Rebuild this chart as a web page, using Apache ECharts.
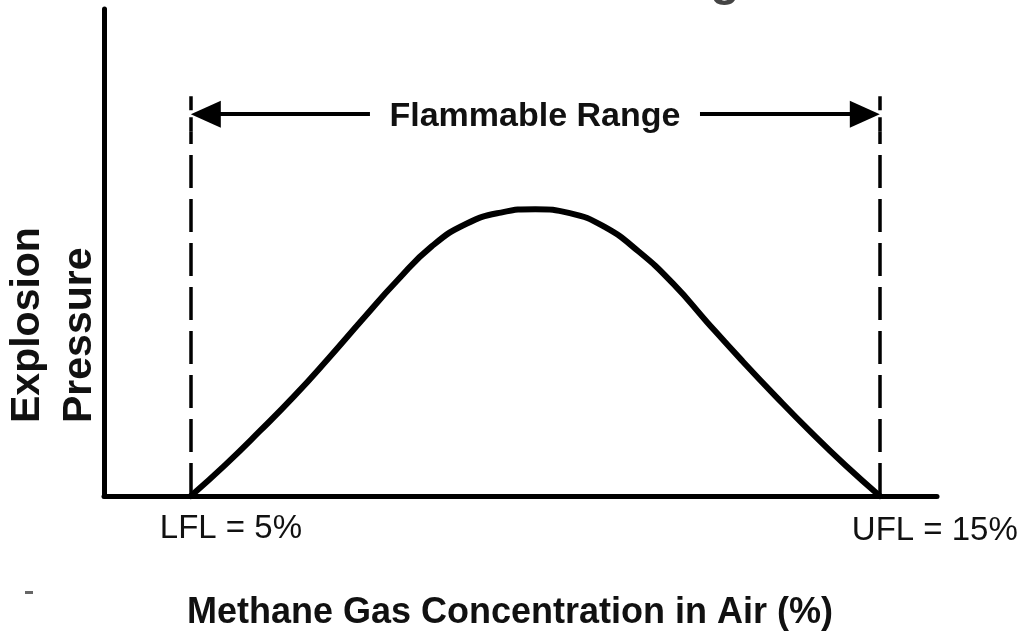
<!DOCTYPE html>
<html>
<head>
<meta charset="utf-8">
<script src="https://cdn.jsdelivr.net/npm/echarts@6/dist/echarts.min.js"></script>
<style>
html,body{margin:0;padding:0;background:#fff;}
#c{width:1026px;height:639px;}
</style>
</head>
<body>
<div id="c"></div>
<script>
// Methane concentration in air (%) and relative explosion pressure (0-100 scale)
const concentration = [5, 5.5, 6, 6.5, 7, 7.5, 8, 8.5, 9, 9.5, 10, 10.5, 11, 11.5, 12, 12.5, 13, 13.5, 14, 14.5, 15];
const pressure = [0, 6.4, 13.3, 20.5, 28.3, 36.4, 44.3, 51.3, 55.9, 58.2, 58.9, 58.1, 55.3, 50.2, 43.6, 35.6, 27.8, 20.3, 13.1, 6.3, 0];
const limitValues = [5, 15];
const limitLabels = ['LFL = 5%', 'UFL = 15%'];
const rangeLabel = 'Flammable Range';
const xTitle = 'Methane Gas Concentration in Air (%)';
const yTitle = 'Explosion\nPressure';
const xRange = [3.74, 15.83];
const yRange = [0, 100];
const arrowLevel = 78.4;
const barTop = 82.75;
const barBottom = 74.9;
const textGap = [7.6, 12.39];
const tipInset = 0.218;

const FONT = '"Liberation Sans", Arial, sans-serif';
const chart = echarts.init(document.getElementById('c'), null, {renderer: 'canvas'});

const solid = {color: '#000', width: 4, type: 'solid'};
const dashed = {color: '#000', width: 3.5, type: [33, 11]};

const mlData = [];
limitValues.forEach(function (v) {
  mlData.push([{coord: [v, 0], lineStyle: dashed}, {coord: [v, barBottom]}]);
  mlData.push([{coord: [v, barBottom], lineStyle: {color: '#000', width: 3.5}}, {coord: [v, barTop]}]);
});
mlData.push([
  {coord: [textGap[0], arrowLevel], lineStyle: solid, symbol: 'none'},
  {coord: [limitValues[0] + tipInset, arrowLevel], symbol: 'triangle', symbolSize: [27, 30]}
]);
mlData.push([
  {coord: [textGap[1], arrowLevel], lineStyle: solid, symbol: 'none'},
  {coord: [limitValues[1] - tipInset, arrowLevel], symbol: 'triangle', symbolSize: [27, 30]}
]);

const option = {
  animation: false,
  backgroundColor: '#fff',
  grid: {left: 104, right: 89, top: 9, bottom: 143},
  xAxis: {
    type: 'value', min: xRange[0], max: xRange[1],
    axisLine: {show: true, lineStyle: {color: '#000', width: 5}},
    axisTick: {show: false}, axisLabel: {show: false}, splitLine: {show: false}
  },
  yAxis: {
    type: 'value', min: yRange[0], max: yRange[1],
    axisLine: {show: true, lineStyle: {color: '#000', width: 5}},
    axisTick: {show: false}, axisLabel: {show: false}, splitLine: {show: false}
  },
  series: [{
    type: 'line',
    data: concentration.map(function (c, i) { return [c, pressure[i]]; }),
    smooth: 0.5,
    showSymbol: false,
    clip: false,
    lineStyle: {color: '#000', width: 6, cap: 'round'},
    markLine: {
      silent: true,
      symbol: 'none',
      label: {show: false},
      emphasis: {disabled: true},
      data: mlData
    }
  }]
};
chart.setOption(option);

const p0 = chart.convertToPixel({gridIndex: 0}, [limitValues[0], 0]);
const p1 = chart.convertToPixel({gridIndex: 0}, [limitValues[1], 0]);
const pr = chart.convertToPixel({gridIndex: 0}, [(textGap[0] + textGap[1]) / 2, arrowLevel]);

chart.setOption({
  graphic: [
    {type: 'text', x: pr[0], y: pr[1] + 2, style: {text: rangeLabel, fill: '#111', font: 'bold 34px ' + FONT, textAlign: 'center', textVerticalAlign: 'middle'}},
    {type: 'text', x: p0[0] - 31, y: p0[1] + 33, style: {text: limitLabels[0], fill: '#111', font: '33px ' + FONT, textAlign: 'left', textVerticalAlign: 'middle'}},
    {type: 'text', x: p1[0] - 28, y: p1[1] + 35, style: {text: limitLabels[1], fill: '#111', font: '33px ' + FONT, textAlign: 'left', textVerticalAlign: 'middle'}},
    {type: 'text', x: 510, y: 613, style: {text: xTitle, fill: '#111', font: 'bold 36px ' + FONT, textAlign: 'center', textVerticalAlign: 'middle'}},
    {type: 'text', x: 2, y: 423, rotation: Math.PI / 2, style: {text: yTitle, fill: '#111', font: 'bold 41px ' + FONT, lineHeight: 52, textAlign: 'left', textVerticalAlign: 'top'}},
    {type: 'text', x: 725, y: 6, style: {text: 'g', fill: '#444', font: 'bold 48px ' + FONT, textAlign: 'center', textVerticalAlign: 'bottom'}},
    {type: 'rect', shape: {x: 25, y: 591, width: 8, height: 3}, style: {fill: '#666'}}
  ]
});
</script>
</body>
</html>
